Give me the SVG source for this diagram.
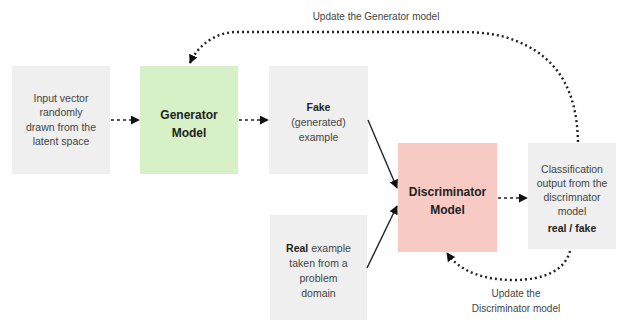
<svg xmlns="http://www.w3.org/2000/svg" width="617" height="320" viewBox="0 0 617 320">
<defs>
<style>
.box{stroke:none}
.gray{fill:#efefef}
.green{fill:#d6f1c6}
.pink{fill:#f7cac3}
text{font-family:"Liberation Sans",Arial,sans-serif;font-size:10.5px;fill:#444;text-anchor:middle}
.b{font-weight:bold;fill:#222}
.big{font-size:12px;font-weight:bold;fill:#222}
.lbl{font-size:10px}
.dash{fill:none;stroke:#222;stroke-width:1.6;stroke-dasharray:3 3}
.dot{fill:none;stroke:#222;stroke-width:2.4;stroke-dasharray:2 3}
.solid{fill:none;stroke:#222;stroke-width:1.4}
</style>
<marker id="ah" viewBox="0 0 10 10" refX="9" refY="5" markerWidth="9" markerHeight="9" markerUnits="userSpaceOnUse" orient="auto">
<path d="M0,0 L10,5 L0,10 Z" fill="#111"/>
</marker>
</defs>
<rect width="617" height="320" fill="#ffffff"/>
<g id="input">
<rect class="box gray" x="12" y="66" width="98" height="108"/>
<text x="61" y="102">Input vector</text>
<text x="61" y="116">randomly</text>
<text x="61" y="131">drawn from the</text>
<text x="61" y="145">latent space</text>
</g>
<g id="generator">
<rect class="box green" x="140" y="66" width="98" height="108"/>
<text class="big" x="189" y="119">Generator</text>
<text class="big" x="189" y="137">Model</text>
</g>
<g id="fake">
<rect class="box gray" x="269" y="66" width="99" height="108"/>
<text class="b" x="318.5" y="111">Fake</text>
<text x="318.5" y="126">(generated)</text>
<text x="318.5" y="141">example</text>
</g>
<g id="real">
<rect class="box gray" x="270" y="215" width="97" height="105"/>
<text x="318.5" y="252"><tspan class="b">Real</tspan> example</text>
<text x="318.5" y="267">taken from a</text>
<text x="318.5" y="282">problem</text>
<text x="318.5" y="297">domain</text>
</g>
<g id="discriminator">
<rect class="box pink" x="398" y="143" width="99" height="109"/>
<text class="big" x="447.5" y="196">Discriminator</text>
<text class="big" x="447.5" y="214">Model</text>
</g>
<g id="classification">
<rect class="box gray" x="528" y="143" width="88" height="106"/>
<text x="572" y="173">Classification</text>
<text x="572" y="187">output from the</text>
<text x="572" y="201">discrimnator</text>
<text x="572" y="215">model</text>
<text class="b" x="572" y="232">real / fake</text>
</g>
<g id="connectors">
<line class="dash" x1="111" y1="120" x2="139" y2="120" marker-end="url(#ah)"/>
<line class="dash" x1="239" y1="120" x2="268" y2="120" marker-end="url(#ah)"/>
<line class="solid" x1="368" y1="120" x2="397" y2="188" marker-end="url(#ah)"/>
<line class="solid" x1="367" y1="268" x2="397" y2="206" marker-end="url(#ah)"/>
<line class="dash" x1="498" y1="198" x2="527" y2="198" marker-end="url(#ah)"/>
<path class="dot" d="M578,142 C577,100 565,55 505,37 C490,33 475,32 460,32 L235,32 C215,33 198,45 190,63" marker-end="url(#ah)"/>
<path class="dot" d="M570,251 C565,270 545,280 513,280 C485,280 460,272 447,253" marker-end="url(#ah)"/>
</g>
<g id="labels">
<text class="lbl" x="376" y="20">Update the Generator model</text>
<text class="lbl" x="516" y="297">Update the</text>
<text class="lbl" x="516" y="312">Discriminator model</text>
</g>
</svg>
